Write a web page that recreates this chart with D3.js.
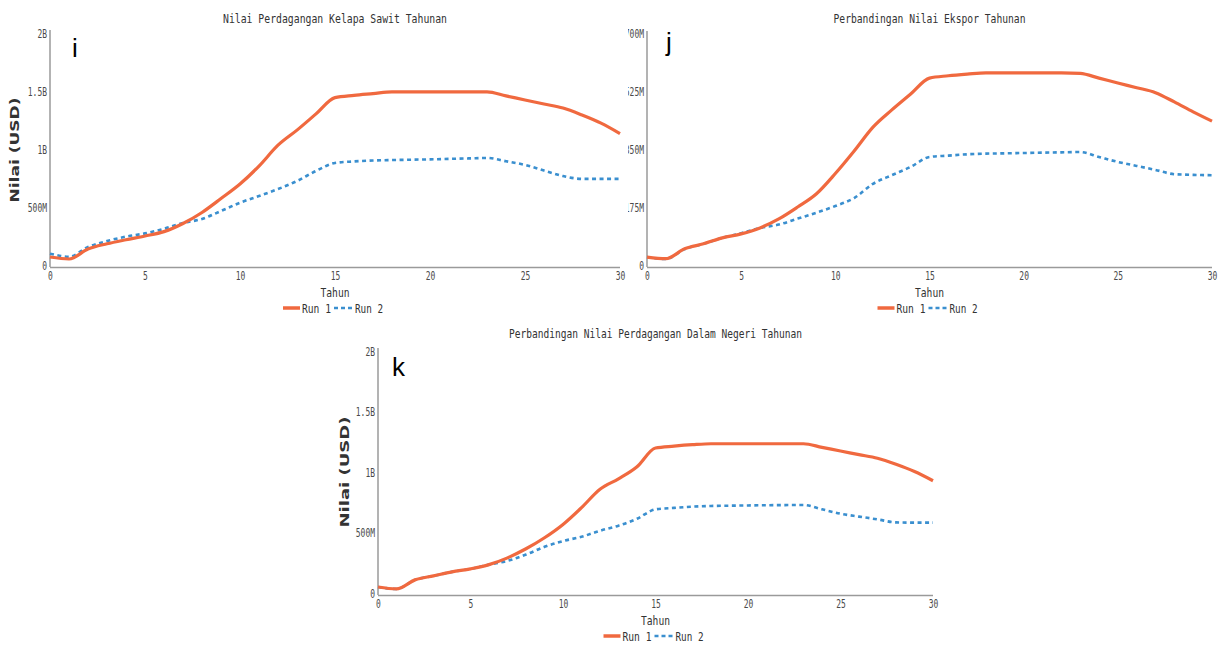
<!DOCTYPE html>
<html>
<head>
<meta charset="utf-8">
<script src="https://cdn.jsdelivr.net/npm/d3@7"></script>
<style>
  html, body { margin: 0; padding: 0; background: #fff; }
  svg { display: block; }
</style>
</head>
<body>
<svg id="chart" width="1222" height="646"></svg>
<script>
// ---------------- DATA (values in millions USD) ----------------
const years = [0,1,2,3,4,5,6,7,8,9,10,11,12,13,14,15,16,17,18,19,20,21,22,23,24,25,26,27,28,29,30];

// Panel i: Nilai Perdagangan Kelapa Sawit Tahunan
const iRun1 = [86,69,155,200,235,267,305,375,470,590,715,870,1050,1180,1320,1460,1480,1495,1510,1510,1510,1510,1510,1510,1475,1440,1405,1370,1310,1240,1150];
const iRun2 = [115,89,172,224,262,290,330,380,414,483,554,612,672,741,828,897,910,918,922,925,928,932,936,940,912,880,832,784,760,760,760];

// Panel j: Perbandingan Nilai Ekspor Tahunan
const jRun1 = [30,25,55,70,88,100,118,145,181,221,282,350,422,474,522,570,577,582,586,586,586,586,586,584,570,555,541,526,498,468,440];
const jRun2 = [30,24,54,70,88,102,118,128,146,164,184,208,251,277,302,332,336,340,342,343,344,345,346,347,332,317,305,293,280,278,277];

// Panel k: Perbandingan Nilai Perdagangan Dalam Negeri Tahunan
const kRun1 = [66,50,125,158,191,216,251,307,382,473,583,722,874,960,1060,1215,1230,1242,1250,1250,1250,1250,1250,1250,1220,1190,1160,1130,1080,1020,944];
const kRun2 = [66,50,125,158,191,216,251,282,334,398,446,481,531,573,630,708,720,730,736,738,740,742,743,744,708,672,648,625,600,598,598];

const xTicks = [0,5,10,15,20,25,30];
const bTicks = [0,500,1000,1500,2000];
const bTickLabels = ["0","500M","1B","1.5B","2B"];
const mTicks = [0,175,350,525,700];
const mTickLabels = ["0","175M","350M","525M","700M"];

const seriesNames = ["Run 1","Run 2"];
const titles = ["Nilai Perdagangan Kelapa Sawit Tahunan","Perbandingan Nilai Ekspor Tahunan","Perbandingan Nilai Perdagangan Dalam Negeri Tahunan"];
const panelLetters = ["i","j","k"];
const xTitle = "Tahun";
const yTitle = "Nilai (USD)";

// ---------------- STYLE ----------------
const ORANGE = "#f0693f";
const BLUE = "#3a8fcf";
const AXIS = "#9a9a9a";
const TICKTXT = "#4a4a4a";
const MONO = "'DejaVu Sans Mono', 'Liberation Mono', monospace";

const svg = d3.select("#chart");

const defs = svg.append("defs");
defs.append("clipPath").attr("id","clipJ").append("rect")
  .attr("x",628).attr("y",0).attr("width",594).attr("height",330);

const panels = [
  {title: titles[0], letter: panelLetters[0], r1: iRun1, r2: iRun2, ticks: bTicks, labels: bTickLabels, yMax: 2000,
   x0: 50, x1: 620, yZero: 267, yTop: 35, axisTop: 30, titleY: 19, titleLen: 224,
   letterX: 72, letterY: 57, yTitleX: 15, yTitleY: 150, yTitleLen: 105, showYTitle: true, clip: null},
  {title: titles[1], letter: panelLetters[1], r1: jRun1, r2: jRun2, ticks: mTicks, labels: mTickLabels, yMax: 700,
   x0: 647, x1: 1212, yZero: 267, yTop: 35, axisTop: 31, titleY: 19, titleLen: 192,
   letterX: 666, letterY: 51, yTitleX: 612, yTitleY: 150, yTitleLen: 105, showYTitle: false, clip: "url(#clipJ)"},
  {title: titles[2], letter: panelLetters[2], r1: kRun1, r2: kRun2, ticks: bTicks, labels: bTickLabels, yMax: 2000,
   x0: 378, x1: 933, yZero: 595, yTop: 353, axisTop: 348, titleY: 334, titleLen: 293,
   letterX: 392, letterY: 376, yTitleX: 345, yTitleY: 472, yTitleLen: 111, showYTitle: true, clip: null}
];

panels.forEach(p => {
  const g = svg.append("g");
  if (p.clip) g.attr("clip-path", p.clip);

  const x = d3.scaleLinear().domain([0,30]).range([p.x0, p.x1]);
  const y = d3.scaleLinear().domain([0,p.yMax]).range([p.yZero, p.yTop]);
  const cx = (p.x0 + p.x1) / 2;

  // title
  g.append("text").attr("x", cx).attr("y", p.titleY).attr("dy","0.35em")
    .attr("text-anchor","middle").attr("font-family", MONO).attr("font-size", 12.5)
    .attr("fill","#333").attr("textLength", p.titleLen).attr("lengthAdjust","spacingAndGlyphs")
    .text(p.title);

  // y axis
  const yAxis = d3.axisLeft(y).tickValues(p.ticks).tickSize(0).tickPadding(3)
    .tickFormat((d,i) => p.labels[i]);
  const ya = g.append("g").attr("transform", `translate(${p.x0},0)`).call(yAxis);
  ya.select(".domain").remove();
  ya.selectAll("text").attr("font-family", MONO).attr("font-size", 11.5).attr("fill", TICKTXT)
    .attr("dy","0.2em")
    .attr("textLength", function(){ return this.textContent.length * 4.8; })
    .attr("lengthAdjust","spacingAndGlyphs");
  g.append("line").attr("x1", p.x0).attr("x2", p.x0).attr("y1", p.axisTop).attr("y2", p.yZero)
    .attr("stroke", AXIS).attr("stroke-width", 1.5);

  // x axis
  const xAxis = d3.axisBottom(x).tickValues(xTicks).tickSize(0).tickPadding(5);
  const xa = g.append("g").attr("transform", `translate(0,${p.yZero})`).call(xAxis);
  xa.select(".domain").remove();
  xa.selectAll("text").attr("font-family", MONO).attr("font-size", 11.5).attr("fill", TICKTXT)
    .attr("textLength", function(){ return this.textContent.length * 4.8; })
    .attr("lengthAdjust","spacingAndGlyphs");
  g.append("line").attr("x1", p.x0).attr("x2", p.x1).attr("y1", p.yZero + 0.5).attr("y2", p.yZero + 0.5)
    .attr("stroke", AXIS).attr("stroke-width", 1.5);

  // x title
  g.append("text").attr("x", cx).attr("y", p.yZero + 25).attr("dy","0.35em")
    .attr("text-anchor","middle").attr("font-family", MONO).attr("font-size", 13)
    .attr("fill","#333").attr("textLength", 29).attr("lengthAdjust","spacingAndGlyphs")
    .text(xTitle);

  // y title
  if (p.showYTitle) {
    g.append("text").attr("transform", `translate(${p.yTitleX},${p.yTitleY}) rotate(-90)`)
      .attr("dy","0.35em").attr("text-anchor","middle")
      .attr("font-family","'DejaVu Sans', sans-serif").attr("font-weight","bold").attr("font-size", 12)
      .attr("fill","#333").attr("textLength", p.yTitleLen).attr("lengthAdjust","spacingAndGlyphs")
      .text(yTitle);
  }

  // panel letter
  g.append("text").attr("x", p.letterX).attr("y", p.letterY)
    .attr("font-family","'Liberation Sans', Arial, sans-serif").attr("font-size", 26).attr("fill","#000")
    .text(p.letter);

  // lines
  const line = d3.line().x((d,i) => x(years[i])).y(d => y(d)).curve(d3.curveMonotoneX);
  g.append("path").datum(p.r2).attr("d", line).attr("fill","none")
    .attr("stroke", BLUE).attr("stroke-width", 2.6).attr("stroke-dasharray","4,3.5");
  g.append("path").datum(p.r1).attr("d", line).attr("fill","none")
    .attr("stroke", ORANGE).attr("stroke-width", 3.2).attr("stroke-linejoin","round");

  // legend
  const ly = p.yZero + 41;
  const lx = cx - 52;
  const leg = g.append("g");
  leg.append("line").attr("x1", lx).attr("x2", lx + 17).attr("y1", ly).attr("y2", ly)
    .attr("stroke", ORANGE).attr("stroke-width", 3.5);
  leg.append("text").attr("x", lx + 19).attr("y", ly).attr("dy","0.35em")
    .attr("font-family", MONO).attr("font-size", 13).attr("fill","#333")
    .attr("textLength", 29).attr("lengthAdjust","spacingAndGlyphs").text(seriesNames[0]);
  leg.append("line").attr("x1", lx + 51).attr("x2", lx + 69).attr("y1", ly).attr("y2", ly)
    .attr("stroke", BLUE).attr("stroke-width", 2.6).attr("stroke-dasharray","4,3");
  leg.append("text").attr("x", lx + 72).attr("y", ly).attr("dy","0.35em")
    .attr("font-family", MONO).attr("font-size", 13).attr("fill","#333")
    .attr("textLength", 28).attr("lengthAdjust","spacingAndGlyphs").text(seriesNames[1]);
});
</script>
</body>
</html>
